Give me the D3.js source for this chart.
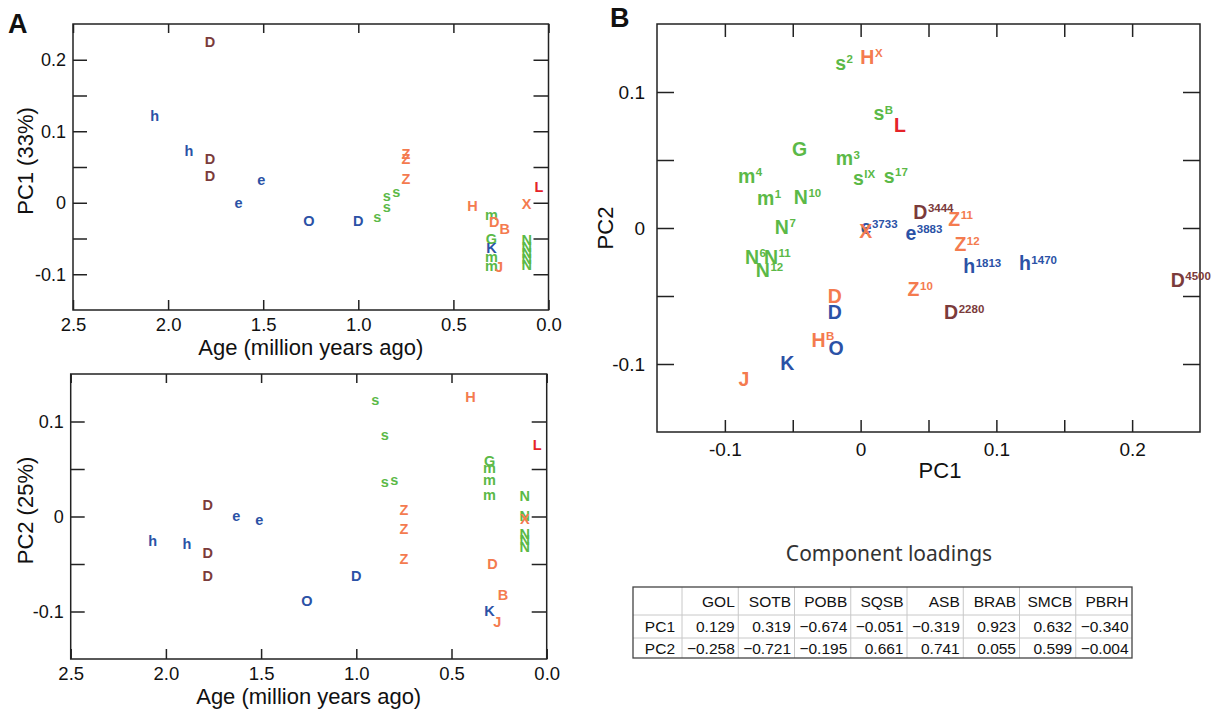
<!DOCTYPE html>
<html>
<head>
<meta charset="utf-8">
<script src="https://cdn.jsdelivr.net/npm/d3@7"></script>
<style>
body { margin: 0; background: #fff; }
svg text { font-family: "Liberation Sans", Arial, sans-serif; }
</style>
</head>
<body>
<svg id="chart" width="1212" height="721"></svg>
<script>
// colours of the specimen groups
const groupColors = {blue: "#2b52a6", brown: "#7b3b3b", green: "#5bb947", orange: "#f47b4f", red: "#e52329"};

// panel A top: age (Ma) vs PC1
const pc1Points = [
    {label: "D", group: "brown", age: 1.78, value: 0.225},
    {label: "h", group: "blue", age: 2.07, value: 0.122},
    {label: "h", group: "blue", age: 1.89, value: 0.073},
    {label: "D", group: "brown", age: 1.78, value: 0.061},
    {label: "D", group: "brown", age: 1.78, value: 0.038},
    {label: "e", group: "blue", age: 1.51, value: 0.030},
    {label: "e", group: "blue", age: 1.63, value: -0.002},
    {label: "O", group: "blue", age: 1.26, value: -0.025},
    {label: "D", group: "blue", age: 1.0, value: -0.025},
    {label: "s", group: "green", age: 0.90, value: -0.022},
    {label: "s", group: "green", age: 0.85, value: -0.008},
    {label: "s", group: "green", age: 0.85, value: 0.0075},
    {label: "s", group: "green", age: 0.80, value: 0.014},
    {label: "Z", group: "orange", age: 0.75, value: 0.069},
    {label: "Z", group: "orange", age: 0.75, value: 0.062},
    {label: "Z", group: "orange", age: 0.75, value: 0.034},
    {label: "H", group: "orange", age: 0.40, value: -0.004},
    {label: "m", group: "green", age: 0.30, value: -0.019},
    {label: "D", group: "orange", age: 0.285, value: -0.026},
    {label: "B", group: "orange", age: 0.23, value: -0.037},
    {label: "G", group: "green", age: 0.30, value: -0.051},
    {label: "K", group: "blue", age: 0.30, value: -0.063},
    {label: "m", group: "green", age: 0.30, value: -0.077},
    {label: "m", group: "green", age: 0.30, value: -0.090},
    {label: "J", group: "orange", age: 0.26, value: -0.090},
    {label: "X", group: "orange", age: 0.115, value: -0.002},
    {label: "L", group: "red", age: 0.05, value: 0.023},
    {label: "N", group: "green", age: 0.115, value: -0.052},
    {label: "N", group: "green", age: 0.115, value: -0.061},
    {label: "N", group: "green", age: 0.115, value: -0.070},
    {label: "N", group: "green", age: 0.115, value: -0.078},
    {label: "N", group: "green", age: 0.115, value: -0.087}
];

// panel A bottom: age (Ma) vs PC2
const pc2Points = [
    {label: "h", group: "blue", age: 2.07, value: -0.026},
    {label: "h", group: "blue", age: 1.89, value: -0.029},
    {label: "D", group: "brown", age: 1.78, value: 0.0126},
    {label: "D", group: "brown", age: 1.78, value: -0.038},
    {label: "D", group: "brown", age: 1.78, value: -0.062},
    {label: "e", group: "blue", age: 1.63, value: -0.001},
    {label: "e", group: "blue", age: 1.51, value: -0.005},
    {label: "O", group: "blue", age: 1.26, value: -0.089},
    {label: "D", group: "blue", age: 1.0, value: -0.062},
    {label: "s", group: "green", age: 0.90, value: 0.121},
    {label: "s", group: "green", age: 0.85, value: 0.084},
    {label: "s", group: "green", age: 0.85, value: 0.035},
    {label: "s", group: "green", age: 0.80, value: 0.0375},
    {label: "Z", group: "orange", age: 0.75, value: 0.0074},
    {label: "Z", group: "orange", age: 0.75, value: -0.0126},
    {label: "Z", group: "orange", age: 0.75, value: -0.045},
    {label: "H", group: "orange", age: 0.40, value: 0.126},
    {label: "G", group: "green", age: 0.30, value: 0.059},
    {label: "m", group: "green", age: 0.30, value: 0.050},
    {label: "m", group: "green", age: 0.30, value: 0.037},
    {label: "m", group: "green", age: 0.30, value: 0.021},
    {label: "D", group: "orange", age: 0.285, value: -0.050},
    {label: "B", group: "orange", age: 0.23, value: -0.082},
    {label: "K", group: "blue", age: 0.30, value: -0.099},
    {label: "J", group: "orange", age: 0.26, value: -0.111},
    {label: "L", group: "red", age: 0.05, value: 0.075},
    {label: "N", group: "green", age: 0.115, value: 0.022},
    {label: "N", group: "green", age: 0.115, value: 0.001},
    {label: "X", group: "orange", age: 0.115, value: -0.0025},
    {label: "N", group: "green", age: 0.115, value: -0.018},
    {label: "N", group: "green", age: 0.115, value: -0.025},
    {label: "N", group: "green", age: 0.115, value: -0.032}
];

// panel B: PC1 vs PC2
const pcaPoints = [
    {label: "s", sup: "2", group: "green", pc1: -0.0147, pc2: 0.120},
    {label: "H", sup: "X", group: "orange", pc1: 0.005, pc2: 0.126},
    {label: "s", sup: "B", group: "green", pc1: 0.0135, pc2: 0.083},
    {label: "L", sup: "", group: "red", pc1: 0.029, pc2: 0.076},
    {label: "G", sup: "", group: "green", pc1: -0.045, pc2: 0.058},
    {label: "m", sup: "3", group: "green", pc1: -0.012, pc2: 0.050},
    {label: "m", sup: "4", group: "green", pc1: -0.084, pc2: 0.037},
    {label: "s", sup: "IX", group: "green", pc1: -0.0017, pc2: 0.0355},
    {label: "s", sup: "17", group: "green", pc1: 0.021, pc2: 0.037},
    {label: "m", sup: "1", group: "green", pc1: -0.070, pc2: 0.021},
    {label: "N", sup: "10", group: "green", pc1: -0.044, pc2: 0.023},
    {label: "N", sup: "7", group: "green", pc1: -0.058, pc2: 0.001},
    {label: "e", sup: "3733", group: "blue", pc1: 0.004, pc2: -0.001},
    {label: "X", sup: "", group: "orange", pc1: 0.0037, pc2: -0.0025},
    {label: "e", sup: "3883", group: "blue", pc1: 0.037, pc2: -0.005},
    {label: "D", sup: "3444", group: "brown", pc1: 0.044, pc2: 0.012},
    {label: "Z", sup: "11", group: "orange", pc1: 0.069, pc2: 0.007},
    {label: "Z", sup: "12", group: "orange", pc1: 0.0735, pc2: -0.012},
    {label: "h", sup: "1813", group: "blue", pc1: 0.080, pc2: -0.028},
    {label: "h", sup: "1470", group: "blue", pc1: 0.121, pc2: -0.026},
    {label: "D", sup: "4500", group: "brown", pc1: 0.2336, pc2: -0.038},
    {label: "Z", sup: "10", group: "orange", pc1: 0.039, pc2: -0.045},
    {label: "D", sup: "2280", group: "brown", pc1: 0.0667, pc2: -0.062},
    {label: "N", sup: "6", group: "green", pc1: -0.080, pc2: -0.021},
    {label: "N", sup: "11", group: "green", pc1: -0.066, pc2: -0.021},
    {label: "N", sup: "12", group: "green", pc1: -0.072, pc2: -0.031},
    {label: "D", sup: "", group: "orange", pc1: -0.019, pc2: -0.050},
    {label: "D", sup: "", group: "blue", pc1: -0.019, pc2: -0.062},
    {label: "H", sup: "B", group: "orange", pc1: -0.031, pc2: -0.082},
    {label: "O", sup: "", group: "blue", pc1: -0.018, pc2: -0.088},
    {label: "K", sup: "", group: "blue", pc1: -0.054, pc2: -0.099},
    {label: "J", sup: "", group: "orange", pc1: -0.086, pc2: -0.111}
];

// tick values
const ageTicks = [2.5, 2.0, 1.5, 1.0, 0.5, 0.0];
const pc1AgeTicks = [-0.1, -0.05, 0, 0.05, 0.1, 0.15, 0.2];
const pc2AgeTicks = [-0.1, -0.05, 0, 0.05, 0.1];
const pcaXTicks = [-0.1, -0.05, 0, 0.05, 0.1, 0.15, 0.2];
const pcaYTicks = [-0.1, -0.05, 0, 0.05, 0.1];

// component loadings table
const loadingVars = ["GOL", "SOTB", "POBB", "SQSB", "ASB", "BRAB", "SMCB", "PBRH"];
const pc1Loadings = [0.129, 0.319, -0.674, -0.051, -0.319, 0.923, 0.632, -0.340];
const pc2Loadings = [-0.258, -0.721, -0.195, 0.661, 0.741, 0.055, 0.599, -0.004];

var svg = d3.select("#chart");
var ink = "#222";

function isMajor(d) { return Math.abs(d * 10 - Math.round(d * 10)) < 1e-6; }
function lowerCase(s) { return /^[acemnorsuvwxz]$/.test(s); }

function styleAxis(g, fontSize) {
    g.select(".domain").remove();
    g.selectAll(".tick line").attr("stroke", ink).attr("stroke-width", 1.5);
    g.selectAll(".tick text").attr("fill", "#111").style("font-size", fontSize + "px")
        .style("font-family", "'Liberation Sans', Arial, sans-serif");
}

function frame(g, w, h) {
    g.append("rect").attr("width", w).attr("height", h)
        .attr("fill", "none").attr("stroke", ink).attr("stroke-width", 1.5);
}

function agePanel(left, top, w, h, points, yDomain, yTicks, yTitle) {
    var g = svg.append("g").attr("transform", "translate(" + left + "," + top + ")");
    var x = d3.scaleLinear().domain([2.5, 0]).range([0, w]);
    var y = d3.scaleLinear().domain(yDomain).range([h, 0]);

    g.append("g").call(d3.axisLeft(y).tickValues(yTicks).tickSize(-14).tickPadding(7)
        .tickFormat(d => isMajor(d) ? String(+d.toFixed(2)) : ""))
        .call(a => styleAxis(a, 18));
    g.append("g").attr("transform", "translate(" + w + ",0)")
        .call(d3.axisRight(y).tickValues(yTicks).tickSize(-15).tickFormat(""))
        .call(a => styleAxis(a, 18));
    g.append("g").call(d3.axisTop(x).tickValues(ageTicks).tickSize(-9).tickFormat(""))
        .call(a => styleAxis(a, 18));
    g.append("g").attr("transform", "translate(0," + h + ")")
        .call(d3.axisBottom(x).tickValues(ageTicks).tickSize(-10).tickPadding(8).tickFormat(d3.format(".1f")))
        .call(a => styleAxis(a, 18.5));
    frame(g, w, h);

    g.selectAll(".pt").data(points).enter().append("text")
        .attr("x", d => x(d.age))
        .attr("y", d => y(d.value))
        .attr("dy", d => lowerCase(d.label) ? "0.26em" : "0.36em")
        .attr("text-anchor", "middle")
        .style("font-size", "14.5px").style("font-weight", "bold")
        .attr("fill", d => groupColors[d.group])
        .text(d => d.label);

    svg.append("text").attr("transform", "translate(33," + (top + h / 2 - 6) + ") rotate(-90)")
        .attr("text-anchor", "middle").style("font-size", "22px").attr("fill", "#111").text(yTitle);
    svg.append("text").attr("x", left + w / 2).attr("y", top + h + 45)
        .attr("text-anchor", "middle").style("font-size", "22px").attr("fill", "#111")
        .text("Age (million years ago)");
}

agePanel(73, 24, 475.5, 286, pc1Points, [-0.15, 0.25], pc1AgeTicks, "PC1 (33%)");
agePanel(70.7, 374, 476, 285, pc2Points, [-0.15, 0.15], pc2AgeTicks, "PC2 (25%)");

// panel B
(function () {
    var left = 657, top = 24, w = 543, h = 408;
    var g = svg.append("g").attr("transform", "translate(" + left + "," + top + ")");
    var x = d3.scaleLinear().domain([-0.15, 0.25]).range([0, w]);
    var y = d3.scaleLinear().domain([-0.15, 0.15]).range([h, 0]);
    var fmt = d => isMajor(d) ? String(+d.toFixed(2)) : "";

    g.append("g").call(d3.axisLeft(y).tickValues(pcaYTicks).tickSize(-17).tickPadding(12).tickFormat(fmt))
        .call(a => styleAxis(a, 19));
    g.append("g").attr("transform", "translate(" + w + ",0)")
        .call(d3.axisRight(y).tickValues(pcaYTicks).tickSize(-17).tickFormat(""))
        .call(a => styleAxis(a, 19));
    g.append("g").call(d3.axisTop(x).tickValues(pcaXTicks).tickSize(-13).tickFormat(""))
        .call(a => styleAxis(a, 19));
    g.append("g").attr("transform", "translate(0," + h + ")")
        .call(d3.axisBottom(x).tickValues(pcaXTicks).tickSize(-12).tickPadding(11).tickFormat(fmt))
        .call(a => styleAxis(a, 19));
    frame(g, w, h);

    var pts = g.selectAll(".pt").data(pcaPoints).enter().append("g")
        .attr("transform", d => "translate(" + x(d.pc1) + "," + y(d.pc2) + ")")
        .attr("fill", d => groupColors[d.group])
        .style("font-weight", "bold");

    pts.append("text").attr("class", "main")
        .attr("text-anchor", "middle")
        .attr("dy", d => lowerCase(d.label) ? "0.26em" : "0.36em")
        .style("font-size", "19.5px")
        .text(d => d.label);

    pts.each(function (d) {
        if (!d.sup) return;
        var node = d3.select(this);
        var len = node.select("text.main").node().getComputedTextLength();
        var base = lowerCase(d.label) ? 19.5 * 0.26 : 19.5 * 0.36;
        node.append("text").attr("x", len / 2 + 0.5).attr("y", base - 6.5)
            .style("font-size", "11.5px").text(d.sup);
    });

    svg.append("text").attr("transform", "translate(613,228) rotate(-90)")
        .attr("text-anchor", "middle").style("font-size", "22px").attr("fill", "#111").text("PC2");
    svg.append("text").attr("x", 940).attr("y", 478)
        .attr("text-anchor", "middle").style("font-size", "22px").attr("fill", "#111").text("PC1");
})();

// panel letters
svg.append("text").attr("x", 8).attr("y", 33).style("font-size", "27px").style("font-weight", "bold").attr("fill", "#111").text("A");
svg.append("text").attr("x", 610).attr("y", 27).style("font-size", "27px").style("font-weight", "bold").attr("fill", "#111").text("B");

// loadings table
(function () {
    var tLeft = 633, tRight = 1132, firstCol = 682;
    var rowEdges = [587, 615, 638, 658];
    var col = d3.scaleBand().domain(loadingVars).range([firstCol, tRight]);
    var fmt = d3.format(".3f");
    var tg = svg.append("g").style("font-size", "15.5px").attr("fill", "#111");

    svg.append("text").attr("x", 889).attr("y", 561).attr("text-anchor", "middle")
        .style("font-family", "'Noto Sans', 'Open Sans', sans-serif").style("font-size", "21px")
        .attr("fill", "#333").text("Component loadings");

    // inner grid
    rowEdges.slice(1, -1).forEach(yy => {
        tg.append("line").attr("x1", tLeft).attr("x2", tRight).attr("y1", yy).attr("y2", yy)
            .attr("stroke", "#c8c8c8").attr("stroke-width", 1);
    });
    [firstCol].concat(loadingVars.slice(1).map(v => col(v))).forEach(xx => {
        tg.append("line").attr("x1", xx).attr("x2", xx).attr("y1", rowEdges[0]).attr("y2", rowEdges[3])
            .attr("stroke", "#c8c8c8").attr("stroke-width", 1);
    });
    tg.append("rect").attr("x", tLeft).attr("y", rowEdges[0])
        .attr("width", tRight - tLeft).attr("height", rowEdges[3] - rowEdges[0])
        .attr("fill", "none").attr("stroke", "#444").attr("stroke-width", 1.3);

    var rowMid = i => (rowEdges[i] + rowEdges[i + 1]) / 2;
    tg.selectAll(".hd").data(loadingVars).enter().append("text")
        .attr("x", d => col(d) + col.bandwidth() - 3.5).attr("y", rowMid(0)).attr("dy", "0.36em")
        .attr("text-anchor", "end").text(d => d);

    [["PC1", pc1Loadings], ["PC2", pc2Loadings]].forEach((row, i) => {
        tg.append("text").attr("x", firstCol - 7).attr("y", rowMid(i + 1)).attr("dy", "0.36em")
            .attr("text-anchor", "end").text(row[0]);
        tg.selectAll(".v" + i).data(row[1]).enter().append("text")
            .attr("x", (d, j) => col(loadingVars[j]) + col.bandwidth() - 3.5)
            .attr("y", rowMid(i + 1)).attr("dy", "0.36em")
            .attr("text-anchor", "end").text(d => fmt(d));
    });
})();
</script>
</body>
</html>
